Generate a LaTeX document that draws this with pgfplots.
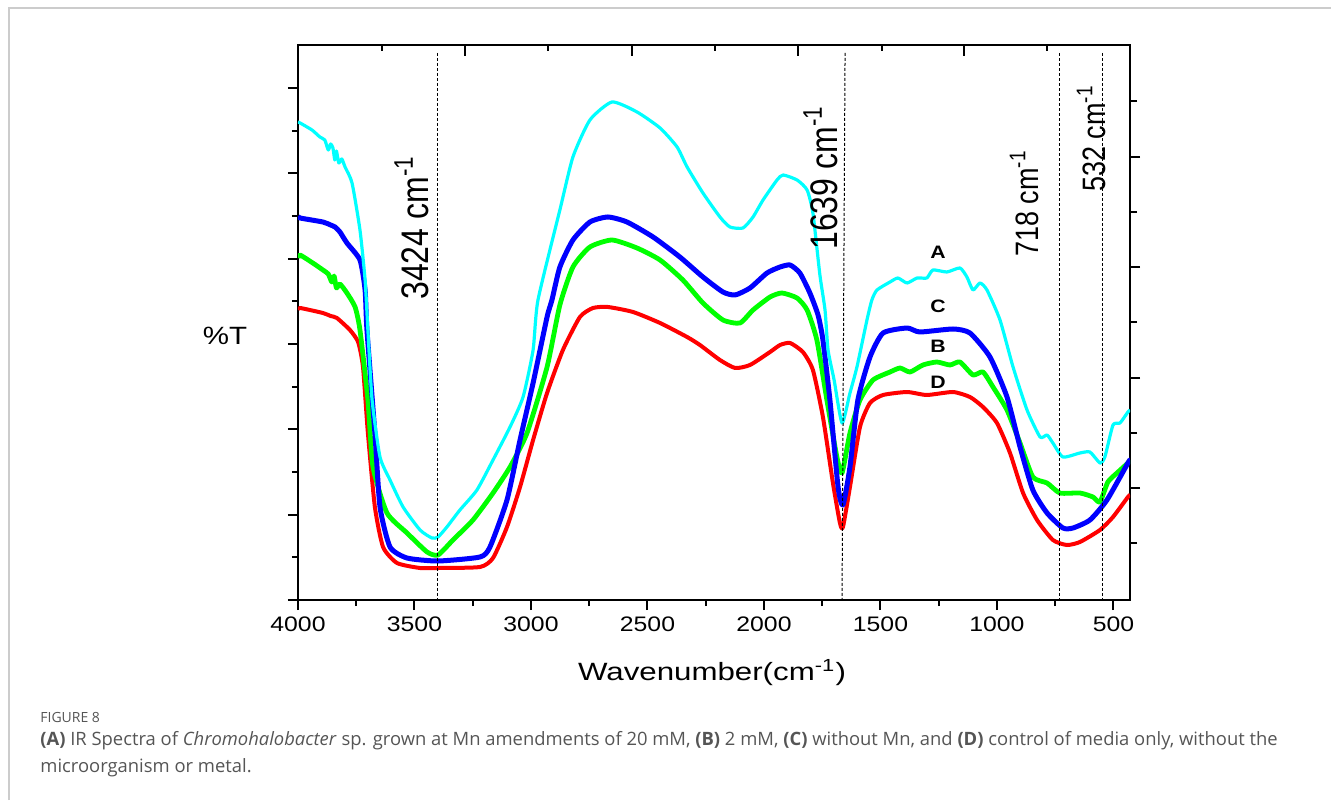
\documentclass[border=0pt]{standalone}
\usepackage{fontspec}
\setmainfont{Liberation Sans}
\newfontfamily\capfont{Open Sans}
\usepackage{pgfplots}
\usepackage{pgfplotstable}
\pgfplotsset{compat=1.18}
\definecolor{capgray}{HTML}{555555}
\definecolor{framegray}{HTML}{CCCCCC}
\definecolor{specA}{HTML}{00FFFF}
\definecolor{specB}{HTML}{00FF00}
\definecolor{specC}{HTML}{0000FF}
\definecolor{specD}{HTML}{FF0000}
\newcommand\sx[1]{\scalebox{1.18}[1]{#1}}

% y = %T in arbitrary units (no labels on the axis)
\pgfplotstableread{
w y
4000 478
3991 477
3940 470
3906 463
3885 460
3870 450
3860 456
3850 452
3842 440
3835 449
3825 437
3812 441
3798 433
3768 417
3734 370
3712 320
3700 270
3682 200
3648 143
3605 120
3549 93
3476 70
3425 62
3399 63
3361 73
3305 90
3232 110
3163 140
3090 173
3034 203
2991 250
2970 300
2876 390
2820 443
2747 480
2652 498
2545 488
2446 472
2373 453
2330 433
2262 407
2189 383
2146 373
2090 372
2047 383
2004 400
1944 420
1918 425
1858 420
1815 410
1790 387
1760 325
1738 290
1725 250
1699 220
1665 177
1631 207
1601 233
1558 280
1537 300
1515 310
1459 318
1425 322
1386 317
1343 322
1301 322
1275 330
1215 328
1159 332
1129 323
1103 310
1073 317
1043 310
987 280
931 233
871 190
815 163
785 165
760 157
717 143
644 147
601 148
558 137
537 143
502 175
472 177
438 188
429 190
}\specAdata

\pgfplotstableread{
w y
4000 342
3991 345
3930 336
3893 330
3870 326
3855 318
3845 324
3835 312
3820 316
3790 307
3755 293
3734 270
3700 200
3678 133
3618 87
3532 67
3446 48
3399 45
3335 60
3249 80
3163 107
3090 133
3017 167
2931 233
2876 295
2820 333
2747 353
2652 360
2545 352
2446 340
2348 320
2262 297
2176 280
2103 277
2047 290
1974 303
1923 307
1858 302
1815 290
1773 260
1730 200
1687 143
1665 127
1631 167
1588 200
1532 220
1459 228
1416 232
1373 228
1318 235
1258 238
1202 235
1159 238
1103 225
1060 228
1017 213
957 190
901 157
846 123
785 117
730 107
644 107
588 103
558 98
524 118
485 127
438 137
429 140
}\specBdata

\pgfplotstableread{
w y
4000 384
3991 382
3893 378
3860 375
3841 373
3820 368
3790 357
3734 340
3712 310
3704 270
3670 167
3648 93
3605 53
3532 42
3399 39
3219 43
3176 53
3103 100
3047 160
2991 217
2931 283
2910 300
2876 333
2820 360
2747 378
2670 383
2588 378
2476 363
2361 343
2262 323
2176 308
2124 305
2060 312
1987 327
1931 333
1888 335
1846 327
1803 307
1768 285
1747 260
1717 200
1682 113
1661 95
1631 133
1597 200
1545 243
1489 267
1386 272
1331 268
1189 271
1116 267
1030 243
957 203
901 153
846 110
785 87
717 72
674 72
601 80
528 100
438 137
429 140
}\specCdata

\pgfplotstableread{
w y
4000 290
3991 292
3893 287
3860 284
3833 282
3777 270
3742 258
3721 233
3700 167
3670 93
3635 53
3575 37
3476 32
3399 32
3219 33
3163 42
3103 73
3047 113
2991 160
2931 207
2863 250
2790 283
2734 292
2670 293
2562 288
2446 277
2330 263
2275 255
2189 240
2124 232
2060 235
1974 248
1931 255
1888 257
1833 248
1790 230
1747 183
1704 117
1674 77
1661 73
1631 113
1588 173
1545 197
1489 205
1386 208
1301 205
1189 208
1116 203
1060 193
1000 177
944 147
888 107
828 80
760 60
700 55
644 58
558 70
502 83
438 103
429 105
}\specDdata

\begin{document}
\begin{tikzpicture}[x=0.5pt,y=0.5pt]
\useasboundingbox (0,0) rectangle (1331,800);
\draw[framegray, line width=1pt] (8.5,0) -- (8.5,791.5) -- (1331,791.5);

\begin{axis}[at={(149pt,100pt)}, anchor=south west,
  width=416pt, height=277.5pt, scale only axis,
  x dir=reverse, xmin=429, xmax=4000, ymin=0, ymax=555,
  xtick={500,1000,...,4000},
  xticklabels={\sx{500},\sx{1000},\sx{1500},\sx{2000},\sx{2500},\sx{3000},\sx{3500},\sx{4000}},
  minor xtick={750,1250,...,3750},
  ytick={0,85.3,170.7,256,341.3,426.7,512},
  minor ytick={42.7,128,213.3,298.7,384,469.3},
  yticklabels={},
  xtick pos=left, ytick pos=left, tick align=outside,
  major tick length=5pt, minor tick length=3pt,
  axis line style={line width=1pt},
  tick style={line width=1pt, black},
  xticklabel style={font=\fontsize{10.5}{12}\selectfont},
  clip mode=individual]
\addplot[specD, line width=2pt, line join=round, smooth, tension=0.35] table[x=w, y=y] {\specDdata};
\addplot[specB, line width=2.4pt, line join=round, smooth, tension=0.35] table[x=w, y=y] {\specBdata};
\addplot[specC, line width=2.5pt, line join=round, smooth, tension=0.35] table[x=w, y=y] {\specCdata};
\addplot[specA, line width=1.6pt, line join=round, smooth, tension=0.35] table[x=w, y=y] {\specAdata};
\draw[black, line width=0.5pt, dash pattern=on 1.5pt off 1pt] (axis cs:3400,547) -- (axis cs:3400,0);
\draw[black, line width=0.5pt, dash pattern=on 1.5pt off 1pt] (axis cs:1652,547) -- (axis cs:1665,0);
\draw[black, line width=0.5pt, dash pattern=on 1.5pt off 1pt] (axis cs:730,547) -- (axis cs:730,0);
\draw[black, line width=0.5pt, dash pattern=on 1.5pt off 1pt] (axis cs:545,547) -- (axis cs:545,0);
\end{axis}

% top ticks (inside)
\begin{axis}[at={(149pt,100pt)}, anchor=south west,
  width=416pt, height=277.5pt, scale only axis,
  xmin=0, xmax=832, ymin=0, ymax=555,
  axis line style={draw=none},
  xtick={167,334,500,666}, minor xtick={84,250,417,584,749},
  xticklabels={}, ytick=\empty,
  xtick pos=right, tick align=inside,
  major tick length=5.5pt, minor tick length=3pt,
  tick style={line width=1pt, black}]
\end{axis}

% right ticks (outside)
\begin{axis}[at={(149pt,100pt)}, anchor=south west,
  width=416pt, height=277.5pt, scale only axis,
  xmin=0, xmax=832, ymin=0, ymax=555,
  axis line style={draw=none},
  ytick={112,222,333,443}, minor ytick={57,167,278,388,499},
  yticklabels={}, xtick=\empty,
  ytick pos=right, tick align=outside,
  major tick length=5pt, minor tick length=3.5pt,
  tick style={line width=1pt, black}]
\end{axis}

% annotations
\node[rotate=90, anchor=base west, inner sep=0pt, font=\fontsize{16}{16}\selectfont] at (428,500) {\scalebox{1}[1.2]{3424 cm\textsuperscript{-1}}};
\node[rotate=90, anchor=base west, inner sep=0pt, font=\fontsize{16}{16}\selectfont] at (837,550) {\scalebox{1}[1.2]{1639 cm\textsuperscript{-1}}};
\node[rotate=90, anchor=base west, inner sep=0pt, font=\fontsize{13.5}{14}\selectfont] at (1038,543) {\scalebox{1}[1.2]{718 cm\textsuperscript{-1}}};
\node[rotate=90, anchor=base west, inner sep=0pt, font=\fontsize{13.5}{14}\selectfont] at (1105,608) {\scalebox{1}[1.2]{532 cm\textsuperscript{-1}}};

\node[font=\bfseries\fontsize{9}{10}\selectfont] at (938,548) {\sx{A}};
\node[font=\bfseries\fontsize{9}{10}\selectfont] at (938,494) {\sx{C}};
\node[font=\bfseries\fontsize{9}{10}\selectfont] at (938,454) {\sx{B}};
\node[font=\bfseries\fontsize{9}{10}\selectfont] at (938,418) {\sx{D}};

\node[font=\fontsize{12.5}{14}\selectfont] at (225,464) {\sx{\%T}};
\node[anchor=base, inner sep=0pt, font=\fontsize{12.5}{14}\selectfont] at (712,120) {\scalebox{1.25}[1]{Wavenumber(cm\textsuperscript{-1})}};

% caption
\node[anchor=base west, inner sep=0pt, text=capgray, font=\capfont\fontsize{7}{8}\selectfont] at (40,78) {FIGURE 8};
\node[anchor=base west, inner sep=0pt, text=capgray, font=\capfont\fontsize{9.2}{10}\selectfont] at (40,55)
  {\textbf{(A)} IR Spectra of \textit{Chromohalobacter} sp. grown at Mn amendments of 20 mM, \textbf{(B)} 2 mM, \textbf{(C)} without Mn, and \textbf{(D)} control of media only, without the};
\node[anchor=base west, inner sep=0pt, text=capgray, font=\capfont\fontsize{9.2}{10}\selectfont] at (40,28) {microorganism or metal.};
\end{tikzpicture}
\end{document}
